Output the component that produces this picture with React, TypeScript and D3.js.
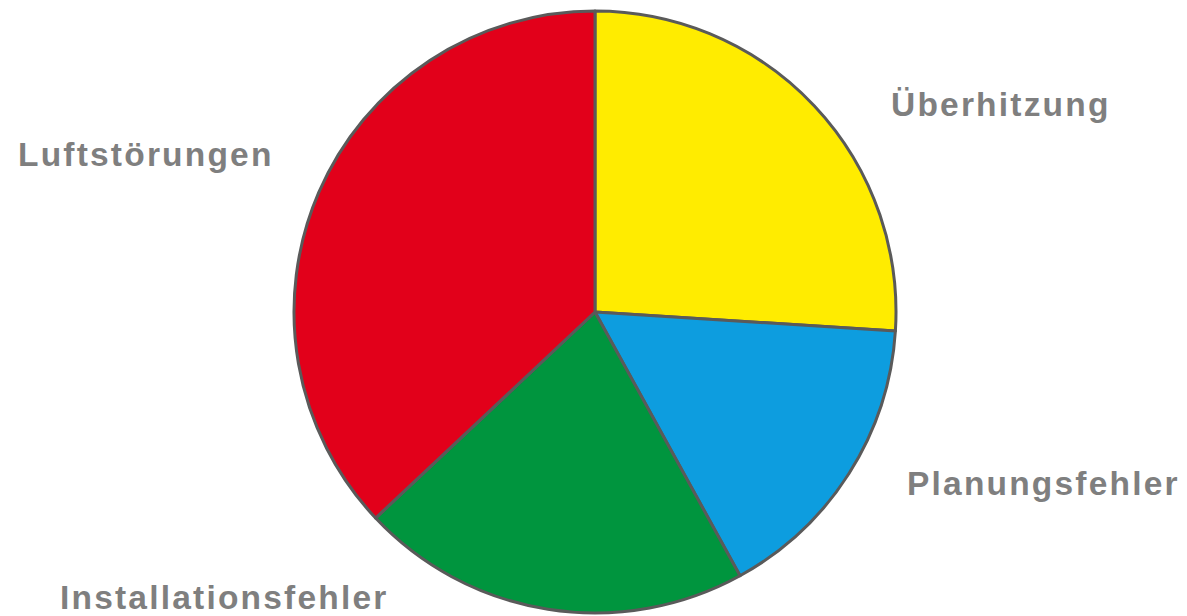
import React from "react";
import * as d3 from "d3";

const categories = ["Überhitzung", "Planungsfehler", "Installationsfehler", "Luftstörungen"];
const values = [26, 16, 21, 37];
const colors = ["#FFEC00", "#0D9DDF", "#00953E", "#E2001A"];
// label anchor (start x, baseline y) in layout space
const labelPos: [number, number][] = [
  [891, 116],
  [907, 495],
  [60, 609],
  [18, 166],
];

const W = 1187;
const H = 616;
const cx = 595;
const cy = 312;
const R = 301;

export default function App() {
  const pie = d3.pie<number>().sort(null).startAngle(0).endAngle(2 * Math.PI);
  const arcs = pie(values);
  const arc = d3.arc<d3.PieArcDatum<number>>().innerRadius(0).outerRadius(R);
  return (
    <svg
      width={W}
      height={H}
      style={{ position: "absolute", left: 0, top: 0, background: "#fff" }}
    >
      <g transform={`translate(${cx},${cy})`}>
        {arcs.map((a, i) => (
          <path
            key={i}
            d={arc(a) || ""}
            fill={colors[i]}
            stroke="#5a5a5a"
            strokeWidth={3}
            strokeLinejoin="round"
          />
        ))}
      </g>
      {categories.map((c, i) => (
        <text
          key={c}
          x={labelPos[i][0]}
          y={labelPos[i][1]}
          fill="#7f7f7f"
          fontFamily="'Liberation Sans', Arial, sans-serif"
          fontWeight="bold"
          fontSize={33.5}
          letterSpacing={2.2}
        >
          {c}
        </text>
      ))}
    </svg>
  );
}
